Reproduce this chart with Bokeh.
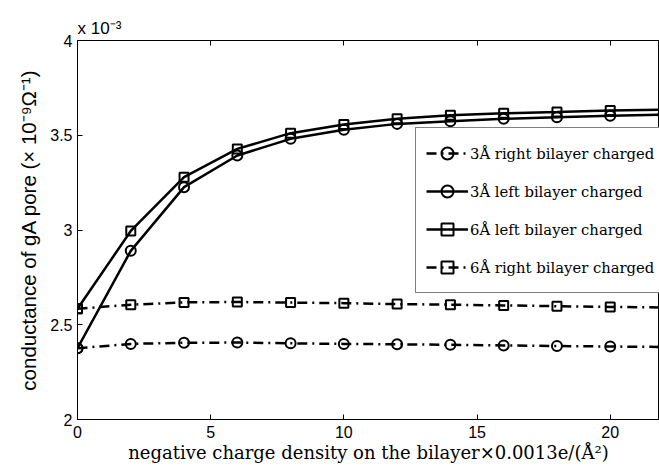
from bokeh.plotting import figure
from bokeh.models import Range1d, LinearAxis, FixedTicker, Legend, LegendItem
from bokeh.embed import file_html
from bokeh.resources import INLINE

# charge density (x0.0013 e/Å^2)
x = [0, 2, 4, 6, 8, 10, 12, 14, 16, 18, 20, 22]
# conductance (x1e-3, in 1e-9 Ohm^-1)
right_3A = [2.376, 2.399, 2.405, 2.406, 2.402, 2.399, 2.397, 2.394, 2.391, 2.388, 2.385, 2.383]
left_3A = [2.376, 2.890, 3.226, 3.393, 3.481, 3.529, 3.560, 3.574, 3.587, 3.595, 3.603, 3.608]
left_6A = [2.584, 2.995, 3.279, 3.428, 3.511, 3.557, 3.587, 3.605, 3.616, 3.623, 3.631, 3.635]
right_6A = [2.584, 2.606, 2.618, 2.620, 2.617, 2.614, 2.609, 2.606, 2.602, 2.598, 2.594, 2.591]

names = ["3Å right bilayer charged", "3Å left bilayer charged",
         "6Å left bilayer charged", "6Å right bilayer charged"]

x_ticks = [0, 5, 10, 15, 20]
x_tick_labels = ["0", "5", "10", "15", "20"]
y_ticks = [2, 2.5, 3, 3.5, 4]
y_tick_labels = ["2", "2.5", "3", "3.5", "4"]

p = figure(width=659, height=468, x_range=Range1d(0, 21.85), y_range=Range1d(2, 4),
           output_backend="svg", toolbar_location=None,
           min_border_left=77, min_border_right=0, min_border_top=40, min_border_bottom=49)
p.background_fill_color = "white"
p.border_fill_color = "white"
p.outline_line_color = "black"
p.outline_line_width = 1
p.xgrid.visible = False
p.ygrid.visible = False

p.title.text = "x 10⁻³"
p.title.align = "left"
p.title.text_font = "Liberation Sans"
p.title.text_font_size = "17px"
p.title.text_font_style = "normal"
p.title.text_color = "black"
p.title.offset = 0
p.title.standoff = 5

TICK_FONT = "Liberation Sans"

for ax, ticks, labels in ((p.xaxis[0], x_ticks, x_tick_labels), (p.yaxis[0], y_ticks, y_tick_labels)):
    ax.ticker = FixedTicker(ticks=ticks)
    ax.major_label_overrides = {t: l for t, l in zip(ticks, labels)}
    ax.major_tick_in = 5
    ax.major_tick_out = 0
    ax.minor_tick_line_color = None
    ax.major_label_text_font = TICK_FONT
    ax.major_label_text_font_size = "16px"
    ax.major_label_text_color = "black"
    ax.axis_line_color = "black"
    ax.major_tick_line_color = "black"

p.xaxis[0].major_label_standoff = 6
p.yaxis[0].major_label_standoff = 5

p.xaxis[0].axis_label = "negative charge density on the bilayer×0.0013e/(Å²)"
p.xaxis[0].axis_label_text_font = "DejaVu Serif"
p.xaxis[0].axis_label_text_font_size = "18px"
p.xaxis[0].axis_label_text_font_style = "normal"
p.xaxis[0].axis_label_text_color = "black"
p.xaxis[0].axis_label_standoff = 1

p.yaxis[0].axis_label = "conductance of gA pore (× 10⁻⁹Ω⁻¹)"
p.yaxis[0].axis_label_text_font = "Liberation Sans"
p.yaxis[0].axis_label_text_font_size = "20.5px"
p.yaxis[0].axis_label_text_font_style = "normal"
p.yaxis[0].axis_label_text_color = "black"
p.yaxis[0].axis_label_standoff = 7

top = LinearAxis(ticker=FixedTicker(ticks=x_ticks),
                 major_label_overrides={t: "" for t in x_ticks},
                 major_label_text_font_size="1px",
                 major_tick_in=5, major_tick_out=0, minor_tick_line_color=None,
                 major_label_standoff=0, axis_line_color="black",
                 major_tick_line_color="black")
p.add_layout(top, "above")

DASHDOT = "10 5 2 5"
series = [
    (right_3A, "circle", DASHDOT, 10),
    (left_3A, "circle", "solid", 10),
    (left_6A, "square", "solid", 9),
    (right_6A, "square", DASHDOT, 9),
]

items = []
for (ys, marker, dash, size), name in zip(series, names):
    ln = p.line(x, ys, line_color="black", line_width=2.5, line_dash=dash)
    sc = p.scatter(x, ys, marker=marker, size=size, line_color="black", line_width=2,
                   fill_alpha=0)
    items.append(LegendItem(label=name, renderers=[ln, sc]))

legend = Legend(items=items, location=(338, 126))
legend.border_line_color = "black"
legend.border_line_width = 1
legend.background_fill_color = "white"
legend.background_fill_alpha = 1
legend.padding = 10
legend.spacing = 8
legend.margin = 0
legend.label_height = 30
legend.glyph_height = 30
legend.glyph_width = 42
legend.label_standoff = 2
legend.label_text_font = "DejaVu Serif"
legend.label_text_font_size = "14.8px"
legend.label_text_color = "black"
p.add_layout(legend, "center")

open("out.html", "w").write(file_html(p, INLINE))
